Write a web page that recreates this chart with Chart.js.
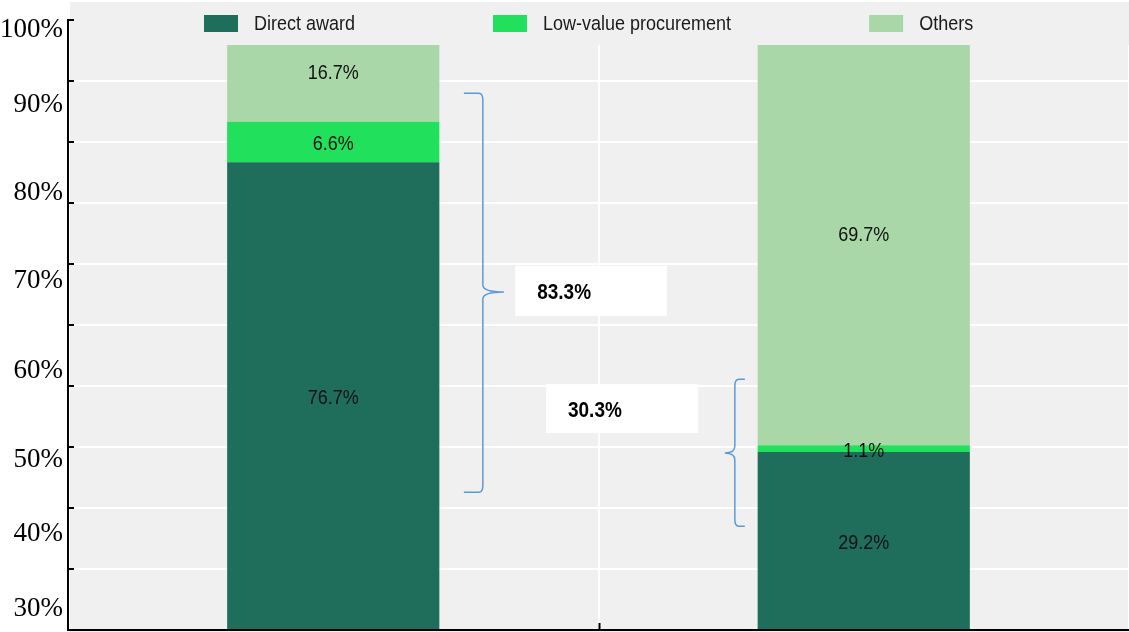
<!DOCTYPE html>
<html>
<head>
<meta charset="utf-8">
<script src="https://cdn.jsdelivr.net/npm/chart.js@4.4.0/dist/chart.umd.min.js"></script>
<style>
  html, body { margin: 0; padding: 0; background: #fff; }
</style>
</head>
<body>
<canvas id="graph" width="1129" height="632"></canvas>
<script>
// data
const categories = ['Bar 1', 'Bar 2'];
const seriesNames = ['Direct award', 'Low-value procurement', 'Others'];
const directAward = [76.7, 29.2];
const lowValue = [6.6, 1.1];
const others = [16.7, 69.7];

// left axis labels and where they sit on the 0-100 scale
const yTickLabels = ['30%', '40%', '50%', '60%', '70%', '80%', '90%', '100%'];
const yTickAt = [3.4, 15.7, 27.9, 42.5, 57.3, 71.6, 86.1, 98.4];

// braces + boxes (x in category units, y in scale units)
const braces = [
  { x: 0.282, from: 22.6, to: 88.0, tip: 55.4, dir: 1, hook: 19, len: 21 },
  { x: 0.757, from: 17.0, to: 41.1, tip: 29.0, dir: -1, hook: 10, len: 10 }
];
const callouts = [
  { bar: 0, x0: 0.343, x1: 0.629, y0: 51.5, y1: 59.7 },
  { bar: 1, x0: 0.401, x1: 0.688, y0: 32.3, y1: 40.3 }
];

const colors = ['#1f6e5b', '#20e05c', '#a9d7a7'];
const stretch = 1.15; // text in the picture is a bit tall

function tallText(ctx, str, x, y) {
  ctx.save();
  ctx.translate(x, y + 2.5);
  ctx.scale(1, stretch);
  ctx.fillText(str, 0, 0);
  ctx.restore();
}

const decor = {
  id: 'decor',
  beforeDraw(chart) {
    const ctx = chart.ctx, a = chart.chartArea;
    ctx.save();
    ctx.fillStyle = '#f0f0f0';
    ctx.fillRect(a.left + 2, 2, chart.width - a.left - 2, chart.height - 2);
    ctx.restore();
  },
  afterDatasetsDraw(chart) {
    const ctx = chart.ctx;
    ctx.save();
    ctx.fillStyle = '#111';
    ctx.font = '18px "Liberation Sans", Arial, sans-serif';
    ctx.textAlign = 'center';
    ctx.textBaseline = 'middle';
    chart.data.datasets.forEach((ds, i) => {
      chart.getDatasetMeta(i).data.forEach((bar, j) => {
        tallText(ctx, ds.data[j].toFixed(1) + '%', bar.x, (bar.y + bar.base) / 2);
      });
    });
    ctx.restore();
  },
  afterDraw(chart) {
    const ctx = chart.ctx, a = chart.chartArea;
    const xs = chart.scales.x, ys = chart.scales.y;
    ctx.save();

    // band behind the legend
    ctx.fillStyle = '#f0f0f0';
    ctx.fillRect(a.left + 2, 2, chart.width - a.left - 2, 43);

    // legend
    ctx.font = '18px "Liberation Sans", Arial, sans-serif';
    ctx.textAlign = 'left';
    ctx.textBaseline = 'middle';
    let lx = 204;
    chart.data.datasets.forEach(ds => {
      ctx.fillStyle = ds.backgroundColor;
      ctx.fillRect(lx, 15, 34, 17);
      ctx.fillStyle = '#1a1a1a';
      tallText(ctx, ds.label, lx + 50, 22);
      lx += 50 + ctx.measureText(ds.label).width + 138;
    });

    // inward tick marks
    ctx.strokeStyle = '#000';
    ctx.lineWidth = 2;
    ys.ticks.forEach(t => {
      const py = Math.round(ys.getPixelForValue(t.value));
      ctx.beginPath();
      ctx.moveTo(a.left, py);
      ctx.lineTo(a.left + 6, py);
      ctx.stroke();
    });
    const mx = Math.round(xs.getPixelForValue(0.5)) + 0.5;
    ctx.beginPath();
    ctx.moveTo(mx, a.bottom - 7);
    ctx.lineTo(mx, a.bottom);
    ctx.stroke();

    // braces
    ctx.strokeStyle = '#5b9bd5';
    ctx.lineWidth = 1.5;
    braces.forEach(b => {
      const x = xs.getPixelForValue(b.x);
      const top = ys.getPixelForValue(b.to), bot = ys.getPixelForValue(b.from), tip = ys.getPixelForValue(b.tip);
      const d = b.dir, r = 7;
      ctx.beginPath();
      ctx.moveTo(x - d * b.hook, top);
      ctx.lineTo(x - d * 4, top);
      ctx.quadraticCurveTo(x, top, x, top + r);
      ctx.lineTo(x, tip - r);
      ctx.quadraticCurveTo(x, tip, x + d * b.len, tip);
      ctx.moveTo(x + d * b.len, tip);
      ctx.quadraticCurveTo(x, tip, x, tip + r);
      ctx.lineTo(x, bot - r);
      ctx.quadraticCurveTo(x, bot, x - d * 4, bot);
      ctx.lineTo(x - d * b.hook, bot);
      ctx.stroke();
    });

    // boxes with the totals
    ctx.font = 'bold 19px "Liberation Sans", Arial, sans-serif';
    callouts.forEach(c => {
      const x0 = xs.getPixelForValue(c.x0), x1 = xs.getPixelForValue(c.x1);
      const y0 = ys.getPixelForValue(c.y1), y1 = ys.getPixelForValue(c.y0);
      ctx.fillStyle = '#fff';
      ctx.fillRect(x0, y0, x1 - x0, y1 - y0);
      ctx.fillStyle = '#000';
      const total = (directAward[c.bar] + lowValue[c.bar]).toFixed(1) + '%';
      tallText(ctx, total, x0 + 22, (y0 + y1) / 2);
    });
    ctx.restore();
  }
};

const graphiques = [directAward, lowValue, others].map((serie, i) => ({
  label: seriesNames[i],
  data: serie,
  backgroundColor: colors[i],
  borderWidth: 0,
  barPercentage: 0.4,
  categoryPercentage: 1,
  yAxisID: 'y'
}));

const config = {
  type: 'bar',
  data: { labels: categories, datasets: graphiques },
  plugins: [decor],
  options: {
    responsive: false,
    animation: false,
    layout: { padding: { top: 20, bottom: 2, left: 0, right: 0 } },
    plugins: { legend: { display: false }, tooltip: { enabled: false } },
    scales: {
      x: {
        stacked: true,
        grid: { color: '#ffffff', lineWidth: 2, drawTicks: false, offset: true },
        border: { color: '#000', width: 2, z: 1 },
        ticks: { display: false }
      },
      y: {
        stacked: true,
        min: 0,
        max: 100,
        weight: 0,
        ticks: { display: false, stepSize: 10 },
        grid: { color: '#ffffff', lineWidth: 2, drawTicks: false },
        border: { color: '#000', width: 2, z: 1 }
      },
      yl: {
        type: 'linear',
        position: 'left',
        weight: 1,
        min: 0,
        max: 100,
        grid: { display: false },
        border: { display: false },
        ticks: {
          autoSkip: false,
          padding: -3,
          color: '#000',
          font: { family: '"Liberation Serif", "Times New Roman", serif', size: 27 },
          callback: (v, i) => yTickLabels[i]
        },
        afterBuildTicks: s => { s.ticks = yTickAt.map(v => ({ value: v })); },
        afterFit: s => { s.width = 68; s.paddingTop = 0; s.paddingBottom = 0; }
      }
    }
  }
};

new Chart(document.getElementById('graph'), config);
</script>
</body>
</html>
